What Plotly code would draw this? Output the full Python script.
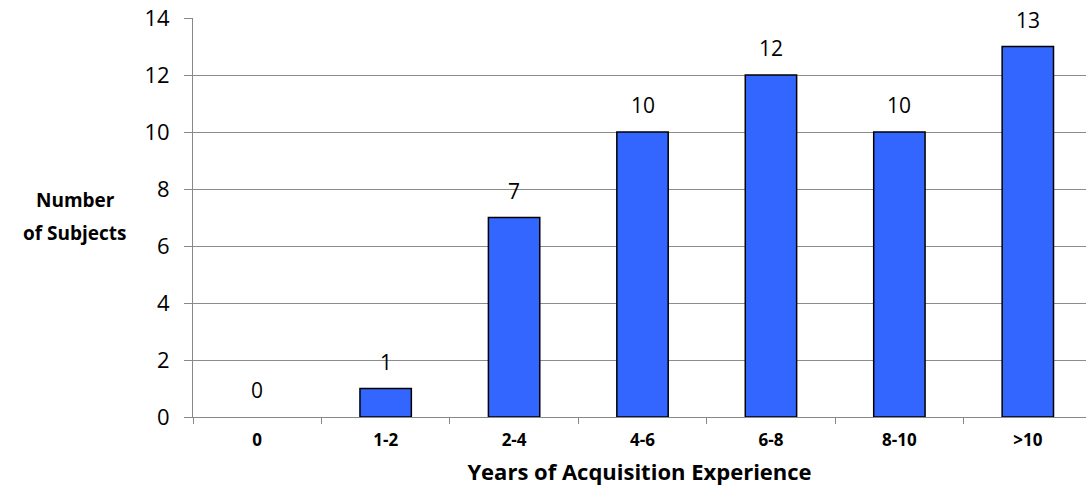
import plotly.graph_objects as go

categories = ["0", "1-2", "2-4", "4-6", "6-8", "8-10", ">10"]
subjects = [0, 1, 7, 10, 12, 10, 13]
y_ticks = [0, 2, 4, 6, 8, 10, 12, 14]
y_title_lines = ["Number", "of Subjects"]

FONT = "Open Sans"

fig = go.Figure()
fig.add_trace(go.Bar(
    x=categories, y=subjects, width=0.40,
    marker=dict(color="#3366FF",
                line=dict(color="#000000", width=[1.5 if v > 0 else 0 for v in subjects])),
    hoverinfo="skip", cliponaxis=False,
))

for c, v in zip(categories, subjects):
    fig.add_annotation(x=c, y=v, text=str(v), showarrow=False, yshift=27,
                       yanchor="middle", font=dict(family=FONT, size=21, color="#000000"))

for i, line in enumerate(y_title_lines):
    fig.add_annotation(xref="paper", yref="paper", x=-0.132, y=0.545 - i * 0.083,
                       text="<b>%s</b>" % line, showarrow=False,
                       xanchor="center", yanchor="middle",
                       font=dict(family=FONT, size=19, color="#000000"))

fig.update_layout(
    width=1086, height=495,
    margin=dict(l=193, r=0, t=18, b=78),
    plot_bgcolor="white", paper_bgcolor="white",
    showlegend=False,
    font=dict(family=FONT, color="#000000"),
    xaxis=dict(
        type="category", range=[-0.5, 6.453], automargin=False,
        tickvals=categories, ticktext=["<b>%s</b>" % c for c in categories],
        tickson="boundaries", ticks="outside", ticklen=6, tickcolor="#888888",
        showline=True, linecolor="#888888", linewidth=1,
        showgrid=False, tickangle=0,
        tickfont=dict(family=FONT, size=17, color="#000000"),
        ticklabelstandoff=8,
        title=dict(text="<b>Years of Acquisition Experience</b>", standoff=14,
                   font=dict(family=FONT, size=22, color="#000000")),
    ),
    yaxis=dict(
        range=[0, 14], tickvals=y_ticks, automargin=False,
        ticks="outside", ticklen=8, tickcolor="#888888",
        showline=True, linecolor="#888888", linewidth=1,
        showgrid=True, gridcolor="#8c8c8c", gridwidth=1,
        zeroline=False,
        tickfont=dict(family=FONT, size=22, color="#000000"),
        ticklabelstandoff=10,
    ),
)
fig.write_html("out.html", config={"displayModeBar": False},
               post_script="document.body.style.margin='0';document.body.style.overflow='hidden';")
